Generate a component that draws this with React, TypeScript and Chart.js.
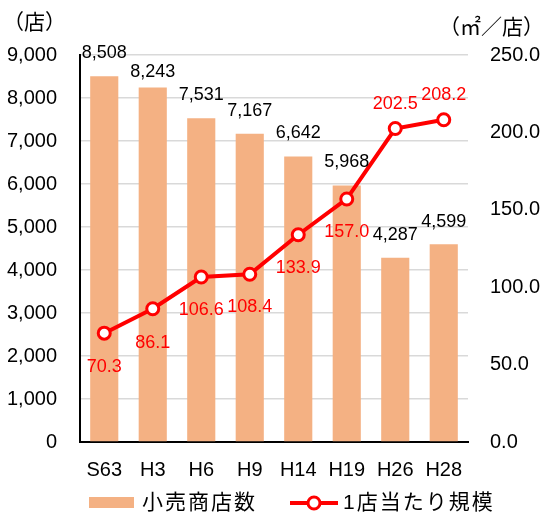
import { useEffect, useRef } from 'react';
import { Chart, registerables } from 'chart.js';

Chart.register(...registerables);

const categories = ['S63', 'H3', 'H6', 'H9', 'H14', 'H19', 'H26', 'H28'];
const storeCounts = [8508, 8243, 7531, 7167, 6642, 5968, 4287, 4599];
const areaPerStore = [70.3, 86.1, 106.6, 108.4, 133.9, 157.0, 202.5, 208.2];
const leftAxisMax = 9000;
const leftAxisStep = 1000;
const rightAxisMax = 250;
const rightAxisStep = 50;
const barSeriesName = '小売商店数';
const lineSeriesName = '1店当たり規模';
const leftAxisTitle = '（店）';
const rightAxisTitle = '（㎡／店）';

// label placement (style only): px above bar top / px below (negative = above) point
const barLabelOffset = [23, 16, 23, 23, 23, 23, 23, 22];
const lineLabelOffset = [34, 34, 33, 33, 33, 33, -24, -25];

const FONT = '"Liberation Sans", Arial, "Noto Sans CJK JP", sans-serif';
const BAR_COLOR = '#F4B183';
const LINE_COLOR = '#FF0000';

const labelsPlugin = {
  id: 'customLabels',
  afterDatasetsDraw(chart: any) {
    const ctx = chart.ctx;
    ctx.save();
    ctx.textAlign = 'center';
    ctx.textBaseline = 'middle';
    const barMeta = chart.getDatasetMeta(0);
    ctx.font = `18px ${FONT}`;
    ctx.fillStyle = '#000';
    barMeta.data.forEach((el: any, i: number) => {
      ctx.fillText(storeCounts[i].toLocaleString('en-US'), el.x, el.y - barLabelOffset[i]);
    });
    const lineMeta = chart.getDatasetMeta(1);
    ctx.fillStyle = LINE_COLOR;
    lineMeta.data.forEach((el: any, i: number) => {
      ctx.fillText(areaPerStore[i].toFixed(1), el.x, el.y + lineLabelOffset[i]);
    });
    ctx.restore();
  },
  afterDraw(chart: any) {
    const ctx = chart.ctx;
    ctx.save();
    ctx.fillStyle = '#000';
    ctx.textBaseline = 'middle';
    ctx.font = `21px ${FONT}`;
    ctx.textAlign = 'left';
    ctx.fillText(leftAxisTitle, 3, 23);
    ctx.textAlign = 'right';
    ctx.fillText(rightAxisTitle, 544, 28);

    // legend
    const ly = 503;
    ctx.fillStyle = BAR_COLOR;
    ctx.fillRect(89, ly - 6, 45, 11);
    ctx.fillStyle = '#000';
    ctx.textAlign = 'left';
    ctx.font = `21px ${FONT}`;
    (ctx as any).letterSpacing = '2px';
    ctx.fillText(barSeriesName, 142, ly);
    ctx.fillText(lineSeriesName, 343, ly);
    (ctx as any).letterSpacing = '0px';
    ctx.strokeStyle = LINE_COLOR;
    ctx.lineWidth = 4;
    ctx.beginPath();
    ctx.moveTo(290, ly);
    ctx.lineTo(338, ly);
    ctx.stroke();
    ctx.beginPath();
    ctx.arc(314, ly, 6, 0, Math.PI * 2);
    ctx.fillStyle = '#fff';
    ctx.fill();
    ctx.lineWidth = 3;
    ctx.stroke();
    ctx.restore();
  },
};

export default function App() {
  const ref = useRef<HTMLCanvasElement | null>(null);
  useEffect(() => {
    document.body.style.margin = '0';
    const canvas = ref.current;
    if (!canvas) return;
    const chart = new Chart(canvas, {
      type: 'bar',
      data: {
        labels: categories,
        datasets: [
          {
            type: 'bar',
            label: barSeriesName,
            data: storeCounts,
            backgroundColor: BAR_COLOR,
            yAxisID: 'y',
            barPercentage: 1,
            categoryPercentage: 0.58,
            order: 2,
          },
          {
            type: 'line',
            label: lineSeriesName,
            data: areaPerStore,
            borderColor: LINE_COLOR,
            borderWidth: 4,
            pointRadius: 6,
            pointBorderWidth: 3,
            pointBackgroundColor: '#fff',
            pointBorderColor: LINE_COLOR,
            yAxisID: 'y1',
            order: 1,
          },
        ],
      } as any,
      plugins: [labelsPlugin],
      options: {
        responsive: false,
        animation: false,
        devicePixelRatio: 1,
        layout: { padding: { top: 55, left: 0, right: 0, bottom: 0 } },
        plugins: { legend: { display: false }, tooltip: { enabled: false } },
        scales: {
          x: {
            grid: { display: false, drawTicks: false },
            border: { display: true, color: '#000', width: 2 },
            ticks: { color: '#000', font: { size: 20, family: FONT }, padding: 16, maxRotation: 0 },
            afterFit: (s: any) => { s.height = 73; },
          },
          y: {
            position: 'left',
            min: 0,
            max: leftAxisMax,
            grid: { color: '#d9d9d9', lineWidth: 1.5, drawTicks: false },
            border: { display: true, color: '#000', width: 2 },
            ticks: {
              stepSize: leftAxisStep,
              color: '#000',
              font: { size: 20, family: FONT },
              padding: 23,
              callback: (v: any) => Number(v).toLocaleString('en-US'),
            },
            afterFit: (s: any) => { s.width = 80; },
          },
          y1: {
            position: 'right',
            min: 0,
            max: rightAxisMax,
            grid: { drawOnChartArea: false, drawTicks: false },
            border: { display: false },
            ticks: {
              stepSize: rightAxisStep,
              color: '#000',
              font: { size: 20, family: FONT },
              padding: 22,
              callback: (v: any) => Number(v).toFixed(1),
            },
            afterFit: (s: any) => { s.width = 78; },
          },
        },
      } as any,
    });
    return () => chart.destroy();
  }, []);
  return (
    <div style={{ width: 546, height: 515 }}>
      <canvas ref={ref} width={546} height={515} />
    </div>
  );
}
